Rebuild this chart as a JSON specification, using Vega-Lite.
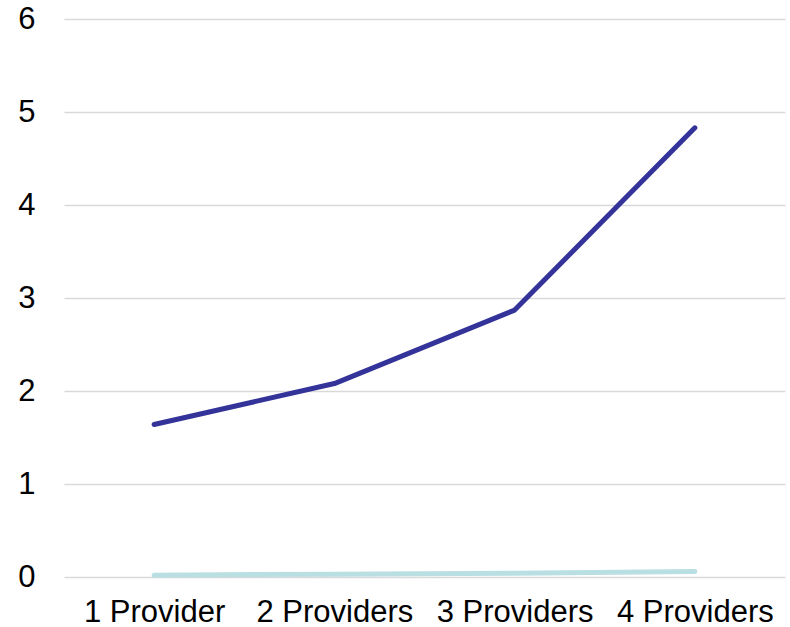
{
  "$schema": "https://vega.github.io/schema/vega-lite/v6.json",
  "autosize": "none",
  "width": 721,
  "height": 558,
  "padding": {"left": 64, "top": 19, "right": 5, "bottom": 50},
  "background": "white",
  "config": {
    "view": {"stroke": null},
    "font": "Liberation Sans",
    "axis": {"labelFont": "Liberation Sans", "labelFontSize": 31, "labelColor": "#000000", "domain": false, "ticks": false, "title": null}
  },
  "data": {
    "values": [
      {"providers": "1 Provider", "series": "A", "value": 1.64},
      {"providers": "2 Providers", "series": "A", "value": 2.08},
      {"providers": "3 Providers", "series": "A", "value": 2.87},
      {"providers": "4 Providers", "series": "A", "value": 4.83},
      {"providers": "1 Provider", "series": "B", "value": 0.02},
      {"providers": "2 Providers", "series": "B", "value": 0.03},
      {"providers": "3 Providers", "series": "B", "value": 0.04},
      {"providers": "4 Providers", "series": "B", "value": 0.06}
    ]
  },
  "mark": {"type": "line", "strokeWidth": 5, "strokeCap": "round", "strokeJoin": "round"},
  "encoding": {
    "x": {
      "field": "providers", "type": "nominal", "sort": null,
      "scale": {"type": "point", "padding": 0.5},
      "axis": {"labelAngle": 0, "labelPadding": 20, "grid": false, "labelFontSize": 31}
    },
    "y": {
      "field": "value", "type": "quantitative",
      "scale": {"domain": [0, 6], "nice": false},
      "axis": {"values": [0, 1, 2, 3, 4, 5, 6], "grid": true, "gridColor": "#d9d9d9", "gridWidth": 1.5, "labelPadding": 29, "labelFontSize": 31}
    },
    "color": {
      "field": "series", "type": "nominal",
      "scale": {"domain": ["A", "B"], "range": ["#333399", "#b9dfe3"]},
      "legend": null
    }
  }
}
